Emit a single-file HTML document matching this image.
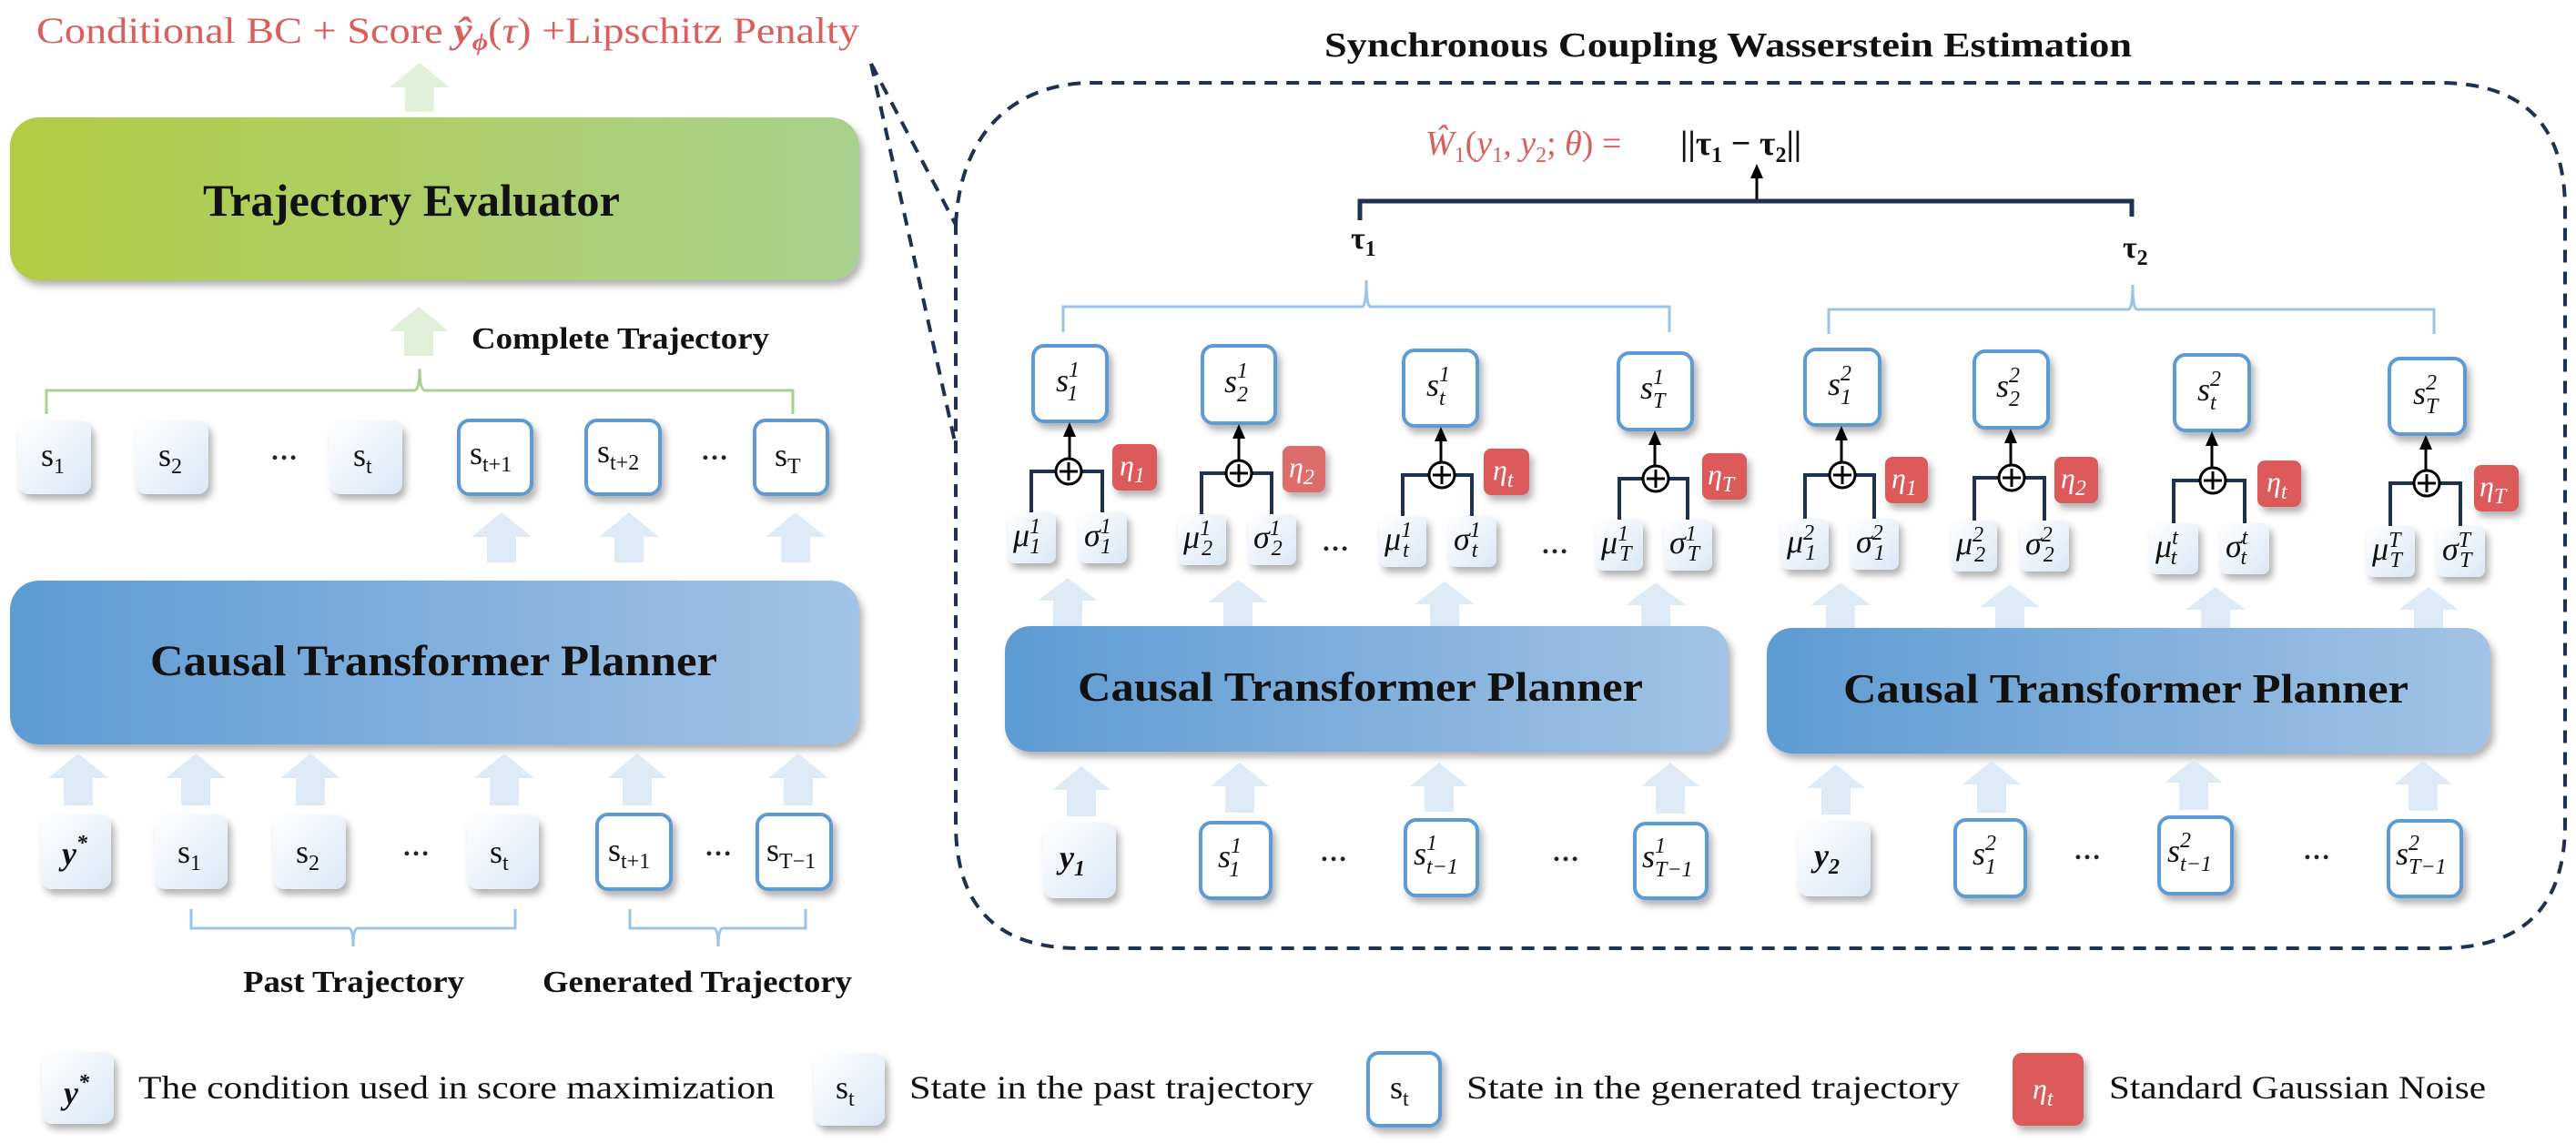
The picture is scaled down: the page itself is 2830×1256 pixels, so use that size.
<!DOCTYPE html>
<html><head><meta charset="utf-8"><style>
html,body{margin:0;padding:0;background:#fff}
svg{display:block}
text{font-family:"Liberation Serif",serif}
.m{font-style:italic;font-size:36px;fill:#111}
.u{font-size:36px;fill:#111}
.s{font-size:24px}
.e{font-style:italic;font-size:32px;fill:#fff}
.lab{font-size:34px;font-weight:bold;fill:#111}
.dots{font-size:30px;font-weight:bold;fill:#222}
</style></head><body>
<svg width="2830" height="1256" viewBox="0 0 2830 1256" xmlns="http://www.w3.org/2000/svg">
<defs>
<linearGradient id="gG" x1="0" x2="1" y1="0" y2="0"><stop offset="0" stop-color="#b3cc43"/><stop offset="1" stop-color="#a9d18e"/></linearGradient>
<linearGradient id="gB" x1="0" x2="1" y1="0" y2="0"><stop offset="0" stop-color="#5e9bd3"/><stop offset="1" stop-color="#a2c3e6"/></linearGradient>
<linearGradient id="gL" x1="0" x2="1" y1="0" y2="1"><stop offset="0" stop-color="#ffffff"/><stop offset="1" stop-color="#dbe7f5"/></linearGradient>
<filter id="sh" x="-20%" y="-20%" width="150%" height="150%"><feDropShadow dx="4" dy="6" stdDeviation="4" flood-color="#000" flood-opacity="0.3"/></filter>
<marker id="ah" markerWidth="8" markerHeight="8" refX="4" refY="4" orient="auto" markerUnits="userSpaceOnUse"><path d="M0,0 L8,4 L0,8z"/></marker>
</defs>

<!-- title left -->
<text x="40" y="47" font-size="40" fill="#d95f5c" textLength="904" lengthAdjust="spacingAndGlyphs">Conditional BC + Score <tspan font-style="italic" font-weight="bold">ŷ</tspan><tspan font-style="italic" font-weight="bold" font-size="26" dy="8">ϕ</tspan><tspan dy="-8">(</tspan><tspan font-style="italic">τ</tspan>) +Lipschitz Penalty</text>

<!-- green arrows -->
<polygon points="461,69 494,96 477,96 477,123 445,123 445,96 428,96" fill="#e2efd9"/>
<polygon points="460,337 493,364 476,364 476,391 444,391 444,364 427,364" fill="#e2efd9"/>

<!-- Trajectory Evaluator -->
<rect x="11" y="129" width="933" height="179" rx="32" fill="url(#gG)" filter="url(#sh)"/>
<text x="223" y="237" font-size="50" font-weight="bold" fill="#111" textLength="458" lengthAdjust="spacingAndGlyphs">Trajectory Evaluator</text>
<text x="518" y="383" font-size="34" font-weight="bold" fill="#111" textLength="327" lengthAdjust="spacingAndGlyphs">Complete Trajectory</text>
<path d="M51,455 V429 H455 Q461,429 461,405 Q461,429 467,429 H871 V455" fill="none" stroke="#a9d18e" stroke-width="3"/>

<!-- left state row -->
<g filter="url(#sh)">
<rect x="20" y="462" width="80" height="81" rx="12" fill="url(#gL)"/>
<rect x="149" y="462" width="80" height="81" rx="12" fill="url(#gL)"/>
<rect x="362" y="462" width="80" height="81" rx="12" fill="url(#gL)"/>
<rect x="504" y="462" width="80" height="81" rx="12" fill="#fff" stroke="#5b9bd5" stroke-width="4"/>
<rect x="644" y="462" width="81" height="81" rx="12" fill="#fff" stroke="#5b9bd5" stroke-width="4"/>
<rect x="829" y="462" width="80" height="81" rx="12" fill="#fff" stroke="#5b9bd5" stroke-width="4"/>
</g>
<text x="45" y="512" class="u">s<tspan class="s" dy="8">1</tspan></text>
<text x="174" y="512" class="u">s<tspan class="s" dy="8">2</tspan></text>
<text x="297" y="505" class="dots">…</text>
<text x="388" y="512" class="u">s<tspan class="s" dy="8">t</tspan></text>
<text x="516" y="510" class="u">s<tspan class="s" dy="8">t+1</tspan></text>
<text x="656" y="508" class="u">s<tspan class="s" dy="8">t+2</tspan></text>
<text x="770" y="505" class="dots">…</text>
<text x="851" y="512" class="u">s<tspan class="s" dy="8">T</tspan></text>

<!-- left gen arrows -->
<g fill="#deebf7">
<polygon points="551,563 584,590 567,590 567,618 535,618 535,590 518,590"/>
<polygon points="691,563 724,590 707,590 707,618 675,618 675,590 658,590"/>
<polygon points="874,563 907,590 890,590 890,618 858,618 858,590 841,590"/>
</g>

<!-- CTP left -->
<rect x="11" y="638" width="933" height="180" rx="32" fill="url(#gB)" filter="url(#sh)"/>
<text x="165" y="742" font-size="48" font-weight="bold" fill="#111" textLength="623" lengthAdjust="spacingAndGlyphs">Causal Transformer Planner</text>

<!-- left input arrows -->
<g fill="#deebf7">
<polygon points="86,828 119,855 102,855 102,885 70,885 70,855 53,855"/>
<polygon points="215,828 248,855 231,855 231,885 199,885 199,855 182,855"/>
<polygon points="341,828 374,855 357,855 357,885 325,885 325,855 308,855"/>
<polygon points="554,828 587,855 570,855 570,885 538,885 538,855 521,855"/>
<polygon points="700,828 733,855 716,855 716,885 684,885 684,855 667,855"/>
<polygon points="877,828 910,855 893,855 893,885 861,885 861,855 844,855"/>
</g>
<g filter="url(#sh)">
<rect x="45" y="895" width="77" height="82" rx="12" fill="url(#gL)"/>
<rect x="170" y="895" width="80" height="82" rx="12" fill="url(#gL)"/>
<rect x="300" y="895" width="80" height="82" rx="12" fill="url(#gL)"/>
<rect x="513" y="895" width="79" height="82" rx="12" fill="url(#gL)"/>
<rect x="656" y="895" width="81" height="82" rx="12" fill="#fff" stroke="#5b9bd5" stroke-width="4"/>
<rect x="832" y="895" width="81" height="82" rx="12" fill="#fff" stroke="#5b9bd5" stroke-width="4"/>
</g>
<text x="68" y="950" class="m" font-weight="bold">y<tspan class="s" dy="-16">*</tspan></text>
<text x="195" y="948" class="u">s<tspan class="s" dy="8">1</tspan></text>
<text x="325" y="948" class="u">s<tspan class="s" dy="8">2</tspan></text>
<text x="442" y="940" class="dots">…</text>
<text x="538" y="948" class="u">s<tspan class="s" dy="8">t</tspan></text>
<text x="668" y="946" class="u">s<tspan class="s" dy="8">t+1</tspan></text>
<text x="774" y="940" class="dots">…</text>
<text x="842" y="946" class="u">s<tspan class="s" dy="8">T−1</tspan></text>

<path d="M210,999 V1020 H383 Q388,1020 388,1040 Q388,1020 393,1020 H566 V999" fill="none" stroke="#9dc3e6" stroke-width="3"/>
<path d="M692,999 V1020 H784 Q789,1020 789,1040 Q789,1020 794,1020 H885 V999" fill="none" stroke="#9dc3e6" stroke-width="3"/>
<text x="267" y="1090" font-size="34" font-weight="bold" fill="#111" textLength="243" lengthAdjust="spacingAndGlyphs">Past Trajectory</text>
<text x="596" y="1090" font-size="34" font-weight="bold" fill="#111" textLength="340" lengthAdjust="spacingAndGlyphs">Generated Trajectory</text>

<!-- legend -->
<g filter="url(#sh)">
<rect x="46" y="1156" width="79" height="79" rx="12" fill="url(#gL)"/>
<rect x="894" y="1157" width="78" height="80" rx="12" fill="url(#gL)"/>
<rect x="1503" y="1157" width="79" height="80" rx="12" fill="#fff" stroke="#5b9bd5" stroke-width="4"/>
<rect x="2211" y="1157" width="78" height="80" rx="10" fill="#dc5a5a"/>
</g>
<text x="70" y="1213" class="m" font-weight="bold">y<tspan class="s" dy="-16">*</tspan></text>
<text x="152" y="1207" font-size="36" fill="#111" textLength="699" lengthAdjust="spacingAndGlyphs">The condition used in score maximization</text>
<text x="918" y="1207" class="u">s<tspan class="s" dy="8">t</tspan></text>
<text x="999" y="1207" font-size="36" fill="#111" textLength="444" lengthAdjust="spacingAndGlyphs">State in the past trajectory</text>
<text x="1527" y="1207" class="u">s<tspan class="s" dy="8">t</tspan></text>
<text x="1611" y="1207" font-size="36" fill="#111" textLength="542" lengthAdjust="spacingAndGlyphs">State in the generated trajectory</text>
<text x="2233" y="1207" class="e">η<tspan class="s" dy="8">t</tspan></text>
<text x="2317" y="1207" font-size="36" fill="#111" textLength="414" lengthAdjust="spacingAndGlyphs">Standard Gaussian Noise</text>

<!-- dashed zoom lines and box -->
<g fill="none" stroke="#1f3050" stroke-width="4" stroke-dasharray="14 10">
<path d="M957,70 L1050,247"/>
<path d="M957,70 L1050,490"/>
<path d="M1050,247 C1055,140 1120,91 1200,91 H2680 Q2818,91 2818,230 V905 Q2818,1042 2680,1042 H1186 Q1050,1042 1050,905 Z"/>
</g>
<text x="1455" y="62" font-size="38" font-weight="bold" fill="#111" textLength="887" lengthAdjust="spacingAndGlyphs">Synchronous Coupling Wasserstein Estimation</text>

<!-- formula -->
<text x="1566" y="170" font-size="38" fill="#d95f5c"><tspan font-style="italic">Ŵ</tspan><tspan class="s" dy="8">1</tspan><tspan dy="-8">(</tspan><tspan font-style="italic">y</tspan><tspan class="s" dy="8">1</tspan><tspan dy="-8">, </tspan><tspan font-style="italic">y</tspan><tspan class="s" dy="8">2</tspan><tspan dy="-8">; </tspan><tspan font-style="italic">θ</tspan>) = </text>
<text x="1846" y="170" font-size="38" font-weight="bold" fill="#111">||τ<tspan class="s" dy="8">1</tspan><tspan dy="-8"> − τ</tspan><tspan class="s" dy="8">2</tspan><tspan dy="-8">||</tspan></text>
<line x1="1930" y1="219" x2="1930" y2="190" stroke="#000" stroke-width="3"/>
<polygon points="1930,180 1937,196 1923,196" fill="#000"/>
<path d="M1494,242 V221 H2342 V238" fill="none" stroke="#1f3050" stroke-width="5"/>
<text x="1484" y="273" class="lab">τ<tspan class="s" dy="8">1</tspan></text>
<text x="2332" y="283" class="lab">τ<tspan class="s" dy="8">2</tspan></text>

<!-- τ brackets -->
<path d="M1168,365 V337 H1496 Q1501,337 1501,308 Q1501,337 1506,337 H1834 V365" fill="none" stroke="#9dc3e6" stroke-width="3"/>
<path d="M2009,367 V340 H2338 Q2343,340 2343,313 Q2343,340 2348,340 H2674 V367" fill="none" stroke="#9dc3e6" stroke-width="3"/>

<!-- s boxes right -->
<g filter="url(#sh)" fill="#fff" stroke="#5b9bd5" stroke-width="4">
<rect x="1135" y="380" width="81" height="83" rx="12"/>
<rect x="1321" y="380" width="80" height="85" rx="12"/>
<rect x="1542" y="385" width="81" height="83" rx="12"/>
<rect x="1778" y="388" width="81" height="84" rx="12"/>
<rect x="1983" y="384" width="82" height="83" rx="12"/>
<rect x="2169" y="386" width="81" height="84" rx="12"/>
<rect x="2389" y="390" width="82" height="83" rx="12"/>
<rect x="2625" y="394" width="83" height="83" rx="12"/>
</g>
<g class="m">
<text x="1160" y="430" class="m">s<tspan class="s" dy="-16">1</tspan><tspan class="s" dx="-12" dy="26">1</tspan></text>
<text x="1345" y="431" class="m">s<tspan class="s" dy="-16">1</tspan><tspan class="s" dx="-12" dy="26">2</tspan></text>
<text x="1567" y="435" class="m">s<tspan class="s" dy="-16">1</tspan><tspan class="s" dx="-12" dy="26">t</tspan></text>
<text x="1802" y="438" class="m">s<tspan class="s" dy="-16">1</tspan><tspan class="s" dx="-12" dy="26">T</tspan></text>
<text x="2008" y="434" class="m">s<tspan class="s" dy="-16">2</tspan><tspan class="s" dx="-12" dy="26">1</tspan></text>
<text x="2193" y="436" class="m">s<tspan class="s" dy="-16">2</tspan><tspan class="s" dx="-12" dy="26">2</tspan></text>
<text x="2414" y="440" class="m">s<tspan class="s" dy="-16">2</tspan><tspan class="s" dx="-12" dy="26">t</tspan></text>
<text x="2651" y="444" class="m">s<tspan class="s" dy="-16">2</tspan><tspan class="s" dx="-12" dy="26">T</tspan></text>
</g>

<!-- arrows to s, ⊕, connectors -->
<g stroke="#000" stroke-width="3">
<line x1="1175" y1="504" x2="1175" y2="476"/><line x1="1361" y1="506" x2="1361" y2="478"/>
<line x1="1583" y1="508" x2="1583" y2="481"/><line x1="1818" y1="512" x2="1818" y2="485"/>
<line x1="2023" y1="508" x2="2023" y2="480"/><line x1="2209" y1="511" x2="2209" y2="483"/>
<line x1="2430" y1="514" x2="2430" y2="486"/><line x1="2665" y1="517" x2="2665" y2="490"/>
</g>
<g fill="#000">
<polygon points="1175,464 1182,480 1168,480"/><polygon points="1361,466 1368,482 1354,482"/>
<polygon points="1583,469 1590,485 1576,485"/><polygon points="1818,473 1825,489 1811,489"/>
<polygon points="2023,468 2030,484 2016,484"/><polygon points="2209,471 2216,487 2202,487"/>
<polygon points="2430,474 2437,490 2423,490"/><polygon points="2665,478 2672,494 2658,494"/>
</g>
<g fill="none" stroke="#1f3050" stroke-width="4">
<path d="M1133,563 V518 H1161 M1187,518 H1211 V563"/>
<path d="M1320,565 V520 H1348 M1374,520 H1397 V565"/>
<path d="M1541,567 V522 H1571 M1597,522 H1617 V567"/>
<path d="M1779,571 V526 H1806 M1832,526 H1854 V571"/>
<path d="M1983,570 V522 H2011 M2037,522 H2059 V570"/>
<path d="M2169,572 V525 H2197 M2223,525 H2246 V572"/>
<path d="M2388,575 V528 H2418 M2444,528 H2466 V575"/>
<path d="M2626,578 V531 H2653 M2679,531 H2703 V578"/>
</g>
<g fill="#fff" stroke="#000" stroke-width="3">
<circle cx="1174" cy="518" r="14"/><circle cx="1361" cy="520" r="14"/><circle cx="1584" cy="522" r="14"/><circle cx="1819" cy="526" r="14"/>
<circle cx="2024" cy="522" r="14"/><circle cx="2210" cy="525" r="14"/><circle cx="2431" cy="528" r="14"/><circle cx="2666" cy="531" r="14"/>
</g>
<g stroke="#000" stroke-width="3">
<path d="M1164,518 H1184 M1174,508 V528"/><path d="M1351,520 H1371 M1361,510 V530"/><path d="M1574,522 H1594 M1584,512 V532"/><path d="M1809,526 H1829 M1819,516 V536"/>
<path d="M2014,522 H2034 M2024,512 V532"/><path d="M2200,525 H2220 M2210,515 V535"/><path d="M2421,528 H2441 M2431,518 V538"/><path d="M2656,531 H2676 M2666,521 V541"/>
</g>

<!-- eta boxes -->
<g filter="url(#sh)" fill="#dc5a5a">
<rect x="1222" y="488" width="49" height="51" rx="8"/><rect x="1409" y="490" width="47" height="51" rx="8" fill="#de6c6a"/>
<rect x="1630" y="493" width="50" height="51" rx="8"/><rect x="1870" y="498" width="49" height="51" rx="8"/>
<rect x="2071" y="502" width="47" height="51" rx="8"/><rect x="2257" y="502" width="48" height="51" rx="8"/>
<rect x="2480" y="506" width="48" height="51" rx="8"/><rect x="2718" y="511" width="49" height="51" rx="8"/>
</g>
<text x="1230" y="522" class="e">η<tspan class="s" dy="8">1</tspan></text>
<text x="1416" y="524" class="e">η<tspan class="s" dy="8">2</tspan></text>
<text x="1640" y="527" class="e">η<tspan class="s" dy="8">t</tspan></text>
<text x="1876" y="532" class="e">η<tspan class="s" dy="8">T</tspan></text>
<text x="2078" y="536" class="e">η<tspan class="s" dy="8">1</tspan></text>
<text x="2264" y="536" class="e">η<tspan class="s" dy="8">2</tspan></text>
<text x="2490" y="540" class="e">η<tspan class="s" dy="8">t</tspan></text>
<text x="2724" y="545" class="e">η<tspan class="s" dy="8">T</tspan></text>

<!-- mu sigma boxes -->
<g filter="url(#sh)" fill="url(#gL)">
<rect x="1107" y="563" width="53" height="56" rx="8"/><rect x="1185" y="563" width="53" height="56" rx="8"/>
<rect x="1294" y="565" width="53" height="56" rx="8"/><rect x="1371" y="565" width="53" height="56" rx="8"/>
<rect x="1515" y="567" width="52" height="56" rx="8"/><rect x="1591" y="567" width="53" height="56" rx="8"/>
<rect x="1753" y="571" width="52" height="56" rx="8"/><rect x="1828" y="571" width="53" height="56" rx="8"/>
<rect x="1957" y="570" width="52" height="56" rx="8"/><rect x="2033" y="570" width="53" height="56" rx="8"/>
<rect x="2144" y="572" width="50" height="56" rx="8"/><rect x="2219" y="572" width="54" height="56" rx="8"/>
<rect x="2362" y="575" width="53" height="56" rx="8"/><rect x="2439" y="575" width="54" height="56" rx="8"/>
<rect x="2600" y="578" width="53" height="56" rx="8"/><rect x="2677" y="578" width="53" height="56" rx="8"/>
</g>
<g>
<text x="1113" y="600" class="m" font-size="32">μ<tspan class="s" font-size="20" dy="-14">1</tspan><tspan class="s" font-size="20" dx="-10" dy="22">1</tspan></text>
<text x="1191" y="600" class="m" font-size="32">σ<tspan class="s" font-size="20" dy="-14">1</tspan><tspan class="s" font-size="20" dx="-10" dy="22">1</tspan></text>
<text x="1300" y="602" class="m" font-size="32">μ<tspan class="s" font-size="20" dy="-14">1</tspan><tspan class="s" font-size="20" dx="-10" dy="22">2</tspan></text>
<text x="1377" y="602" class="m" font-size="32">σ<tspan class="s" font-size="20" dy="-14">1</tspan><tspan class="s" font-size="20" dx="-10" dy="22">2</tspan></text>
<text x="1521" y="604" class="m" font-size="32">μ<tspan class="s" font-size="20" dy="-14">1</tspan><tspan class="s" font-size="20" dx="-10" dy="22">t</tspan></text>
<text x="1597" y="604" class="m" font-size="32">σ<tspan class="s" font-size="20" dy="-14">1</tspan><tspan class="s" font-size="20" dx="-10" dy="22">t</tspan></text>
<text x="1759" y="608" class="m" font-size="32">μ<tspan class="s" font-size="20" dy="-14">1</tspan><tspan class="s" font-size="20" dx="-10" dy="22">T</tspan></text>
<text x="1834" y="608" class="m" font-size="32">σ<tspan class="s" font-size="20" dy="-14">1</tspan><tspan class="s" font-size="20" dx="-10" dy="22">T</tspan></text>
<text x="1963" y="607" class="m" font-size="32">μ<tspan class="s" font-size="20" dy="-14">2</tspan><tspan class="s" font-size="20" dx="-10" dy="22">1</tspan></text>
<text x="2039" y="607" class="m" font-size="32">σ<tspan class="s" font-size="20" dy="-14">2</tspan><tspan class="s" font-size="20" dx="-10" dy="22">1</tspan></text>
<text x="2149" y="609" class="m" font-size="32">μ<tspan class="s" font-size="20" dy="-14">2</tspan><tspan class="s" font-size="20" dx="-10" dy="22">2</tspan></text>
<text x="2225" y="609" class="m" font-size="32">σ<tspan class="s" font-size="20" dy="-14">2</tspan><tspan class="s" font-size="20" dx="-10" dy="22">2</tspan></text>
<text x="2368" y="612" class="m" font-size="32">μ<tspan class="s" font-size="20" dy="-14">t</tspan><tspan class="s" font-size="20" dx="-8" dy="22">t</tspan></text>
<text x="2445" y="612" class="m" font-size="32">σ<tspan class="s" font-size="20" dy="-14">t</tspan><tspan class="s" font-size="20" dx="-8" dy="22">t</tspan></text>
<text x="2606" y="615" class="m" font-size="32">μ<tspan class="s" font-size="20" dy="-14">T</tspan><tspan class="s" font-size="20" dx="-12" dy="22">T</tspan></text>
<text x="2683" y="615" class="m" font-size="32">σ<tspan class="s" font-size="20" dy="-14">T</tspan><tspan class="s" font-size="20" dx="-12" dy="22">T</tspan></text>
</g>
<text x="1452" y="605" class="dots">…</text>
<text x="1693" y="608" class="dots">…</text>

<!-- arrows to mu -->
<g fill="#deebf7">
<polygon points="1173,635 1206,660 1189,660 1189,688 1157,688 1157,660 1140,660"/>
<polygon points="1360,637 1393,662 1376,662 1376,688 1344,688 1344,662 1327,662"/>
<polygon points="1587,639 1620,664 1603,664 1603,688 1571,688 1571,664 1554,664"/>
<polygon points="1819,640 1852,665 1835,665 1835,688 1803,688 1803,665 1786,665"/>
<polygon points="2022,640 2055,665 2038,665 2038,690 2006,690 2006,665 1989,665"/>
<polygon points="2208,642 2241,667 2224,667 2224,690 2192,690 2192,667 2175,667"/>
<polygon points="2434,645 2467,670 2450,670 2450,690 2418,690 2418,670 2401,670"/>
<polygon points="2668,645 2701,670 2684,670 2684,692 2652,692 2652,670 2635,670"/>
</g>

<!-- CTP right -->
<rect x="1104" y="688" width="795" height="138" rx="28" fill="url(#gB)" filter="url(#sh)"/>
<rect x="1941" y="690" width="795" height="138" rx="28" fill="url(#gB)" filter="url(#sh)"/>
<text x="1184" y="770" font-size="46" font-weight="bold" fill="#111" textLength="621" lengthAdjust="spacingAndGlyphs">Causal Transformer Planner</text>
<text x="2025" y="772" font-size="46" font-weight="bold" fill="#111" textLength="621" lengthAdjust="spacingAndGlyphs">Causal Transformer Planner</text>

<!-- right input arrows -->
<g fill="#deebf7">
<polygon points="1188,842 1220,868 1204,868 1204,897 1172,897 1172,868 1156,868"/>
<polygon points="1362,838 1394,864 1378,864 1378,893 1346,893 1346,864 1330,864"/>
<polygon points="1581,838 1613,864 1597,864 1597,892 1565,892 1565,864 1549,864"/>
<polygon points="1835,838 1867,864 1851,864 1851,894 1819,894 1819,864 1803,864"/>
<polygon points="2017,840 2049,866 2033,866 2033,895 2001,895 2001,866 1985,866"/>
<polygon points="2188,836 2220,862 2204,862 2204,893 2172,893 2172,862 2156,862"/>
<polygon points="2410,834 2442,860 2426,860 2426,890 2394,890 2394,860 2378,860"/>
<polygon points="2662,836 2694,862 2678,862 2678,891 2646,891 2646,862 2630,862"/>
</g>
<g filter="url(#sh)">
<rect x="1146" y="904" width="80" height="83" rx="12" fill="url(#gL)"/>
<rect x="1319" y="904" width="77" height="83" rx="12" fill="#fff" stroke="#5b9bd5" stroke-width="4"/>
<rect x="1544" y="901" width="79" height="83" rx="12" fill="#fff" stroke="#5b9bd5" stroke-width="4"/>
<rect x="1796" y="905" width="79" height="82" rx="12" fill="#fff" stroke="#5b9bd5" stroke-width="4"/>
<rect x="1975" y="902" width="80" height="83" rx="12" fill="url(#gL)"/>
<rect x="2148" y="901" width="77" height="84" rx="12" fill="#fff" stroke="#5b9bd5" stroke-width="4"/>
<rect x="2372" y="898" width="80" height="84" rx="12" fill="#fff" stroke="#5b9bd5" stroke-width="4"/>
<rect x="2624" y="902" width="80" height="83" rx="12" fill="#fff" stroke="#5b9bd5" stroke-width="4"/>
</g>
<text x="1164" y="954" class="m" font-weight="bold">y<tspan class="s" dy="8">1</tspan></text>
<text x="1338" y="953" class="m">s<tspan class="s" dy="-16">1</tspan><tspan class="s" dx="-12" dy="26">1</tspan></text>
<text x="1450" y="946" class="dots">…</text>
<text x="1553" y="950" class="m">s<tspan class="s" dy="-16">1</tspan><tspan class="s" dx="-12" dy="26">t−1</tspan></text>
<text x="1705" y="946" class="dots">…</text>
<text x="1804" y="953" class="m">s<tspan class="s" dy="-16">1</tspan><tspan class="s" dx="-12" dy="26">T−1</tspan></text>
<text x="1993" y="952" class="m" font-weight="bold">y<tspan class="s" dy="8">2</tspan></text>
<text x="2167" y="950" class="m">s<tspan class="s" dy="-16">2</tspan><tspan class="s" dx="-12" dy="26">1</tspan></text>
<text x="2278" y="944" class="dots">…</text>
<text x="2381" y="947" class="m">s<tspan class="s" dy="-16">2</tspan><tspan class="s" dx="-12" dy="26">t−1</tspan></text>
<text x="2530" y="944" class="dots">…</text>
<text x="2632" y="950" class="m">s<tspan class="s" dy="-16">2</tspan><tspan class="s" dx="-12" dy="26">T−1</tspan></text>
</svg>
</body></html>
